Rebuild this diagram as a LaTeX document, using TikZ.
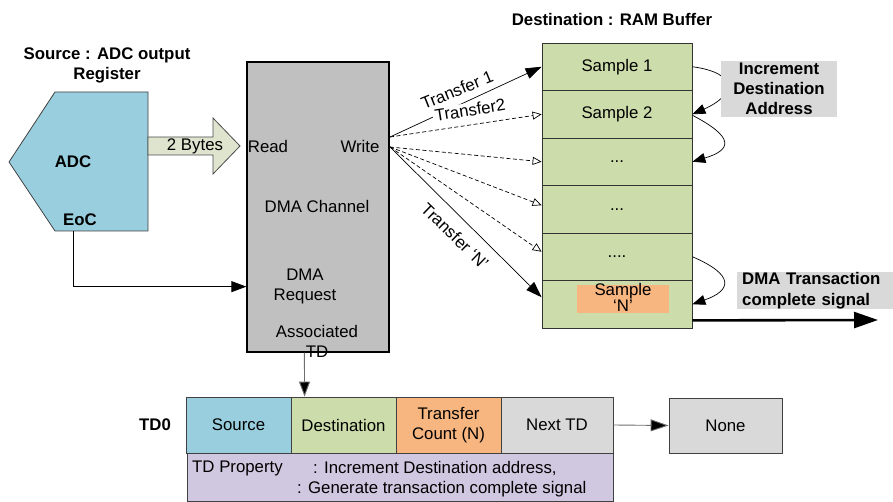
\documentclass[tikz,border=0pt]{standalone}
\usepackage{fontspec}
\setmainfont{Liberation Sans}
\usetikzlibrary{arrows.meta,calc}

\definecolor{adcblue}{RGB}{152,206,221}
\definecolor{ramgreen}{RGB}{204,220,170}
\definecolor{cntorange}{RGB}{247,181,128}
\definecolor{boxgray}{RGB}{217,217,217}
\definecolor{dmagray}{RGB}{192,192,192}
\definecolor{bytefill}{RGB}{222,228,206}
\definecolor{propviolet}{RGB}{208,200,224}
\definecolor{wiregray}{RGB}{110,110,110}

\begin{document}
\begin{tikzpicture}[x=1pt,y=-1pt,
  txt/.style={font=\fontsize{16.8}{20}\selectfont, inner sep=0pt, align=center},
  btxt/.style={font=\fontsize{16.8}{20}\selectfont\bfseries, inner sep=0pt, align=center},
  cell/.style={draw=black!75, line width=0.8pt, minimum height=56, inner sep=0pt,
    font=\fontsize{16.8}{20}\selectfont, align=center},
  ramrow/.style={draw=black!80, line width=0.8pt, fill=ramgreen, minimum width=150,
    minimum height=47.5, inner sep=0pt, font=\fontsize{16.8}{20}\selectfont},
  solidhead/.style={-{Triangle[length=16pt,width=11pt]}},
  openhead/.style={-{Triangle[open,length=9pt,width=8pt]}},
  fan/.style={line width=0.7pt},
  dashfan/.style={line width=0.7pt, dash pattern=on 4pt off 2.5pt},
  hop/.style={line width=0.7pt, -{Triangle[length=13pt,width=10pt]}}
]
\useasboundingbox (0,0) rectangle (893,502);

% ---------- source: ADC register ----------
\node[btxt] (srctitle) at (107,65) {Source : ADC output\\Register};
\filldraw[fill=adcblue, draw=black!75, line width=0.8pt]
  (55,92) -- (148,92) -- (148,231) -- (55,231) -- (9,162) -- cycle;
\node[btxt] (adc) at (73,162) {ADC};
\node[btxt] (eoclbl) at (80,220) {EoC};
\coordinate (eoc) at (73,231);

% 2-byte block arrow into the DMA channel
\filldraw[fill=bytefill, draw=black!70, line width=0.8pt]
  (148,137) -- (213,137) -- (213,118) -- (240,146) -- (213,174) -- (213,155) -- (148,155) -- cycle;
\node[txt] (bytes) at (195,146) {2 Bytes};

% ---------- DMA channel ----------
\node[draw=black, line width=1.3pt, fill=dmagray, minimum width=142, minimum height=290,
  inner sep=0pt] (dma) at (318,207) {};
\node[txt] (read) at (268,146) {Read};
\node[txt] (write) at (360,146) {Write};
\node[txt] (chan) at (317,206) {DMA Channel};
\node[txt] (req) at (305,286) {DMA\\Request};
\node[txt] (assoc) at (317,341) {Associated\\TD};

% end-of-conversion request line
\draw[line width=0.8pt, -{Triangle[length=15pt,width=11pt]}]
  (eoc) |- ($(dma.south west)+(0,-66)$);

% ---------- destination: RAM buffer ----------
\node[btxt] (dsttitle) at (612,19) {Destination : RAM Buffer};
\node[ramrow] (r1) at (617,66.75) {Sample 1};
\node[ramrow] (r2) at (617,114.25) {Sample 2};
\node[ramrow] (r3) at (617,161.75) {...};
\node[ramrow] (r4) at (617,209.25) {...};
\node[ramrow] (r5) at (617,256.75) {....};
\node[ramrow] (r6) at (617,304.25) {};
\node[fill=cntorange, minimum width=92, minimum height=28, inner sep=0pt] (lastbg) at (623,299) {};
\node[font=\fontsize{16.8}{16}\selectfont, inner sep=0pt, align=center] (last) at (623,297) {Sample\\‘N’};

% write fan from the channel into the buffer
\coordinate (wa) at (390,137);
\coordinate (wb) at (390,147);
\draw[fan, solidhead] (wa) -- (r1.west);
\draw[dashfan, openhead] (wa) -- (r2.west);
\draw[dashfan, openhead] (wb) -- (r3.west);
\draw[dashfan, openhead] (wb) -- ($(r4.west)+(0,-4)$);
\draw[dashfan, openhead] (wb) -- ($(r5.west)+(0,-5)$);
\draw[fan, solidhead] (wb) -- ($(r6.west)+(0,-7)$);
\node[txt, rotate=22] (t1) at (457,90) {Transfer 1};
\node[txt, rotate=9, fill=white, inner xsep=2pt, inner ysep=1pt] (t2) at (470,110) {Transfer2};
\node[txt, rotate=-44] (tn) at (455,236) {Transfer ‘N’};

% address increment hops
\draw[hop] (r1.east) .. controls +(45,6) and +(45,-20) .. (r2.east);
\draw[hop] ($(r2.east)+(0,1)$) .. controls +(42,22) and +(40,-12) .. (r3.east);
\draw[hop] (r5.east) .. controls +(42,18) and +(40,-14) .. (r6.east);
\node[fill=boxgray, minimum width=116, minimum height=56, inner sep=0pt,
  font=\fontsize{16.8}{20}\selectfont\bfseries, align=center] (incr) at (779,89)
  {Increment\\Destination\\Address};

% transaction complete signal
\node[fill=boxgray, minimum width=156, minimum height=37, inner xsep=5pt, inner ysep=0pt,
  font=\fontsize{16.8}{20.5}\selectfont\bfseries, align=left, anchor=west, text width=146pt]
  (done) at (737,290.5) {DMA Transaction\\complete signal};
\coordinate (doneend) at (878,320);
\draw[line width=2.6pt, -{Triangle[length=24pt,width=16pt]}]
  ($(r6.south east)+(0,-8)$) -- (doneend);

% ---------- transfer descriptor ----------
\node[btxt] (td0) at (155,425) {TD0};
\node[cell, fill=adcblue, minimum width=105] (srccell) at (238.5,425) {Source};
\node[cell, fill=ramgreen, minimum width=105] (dstcell) at (343.5,425) {Destination};
\node[cell, fill=cntorange, minimum width=105] (cntcell) at (448.5,425) {Transfer\\Count (N)};
\node[cell, fill=boxgray, minimum width=112] (nextcell) at (557,425) {Next TD};
\node[cell, fill=boxgray, minimum width=113, minimum height=55] (none) at (725.5,425.5) {None};
\node[draw=black!75, line width=0.8pt, fill=propviolet, minimum width=426, minimum height=48,
  inner sep=0pt] (prop) at (400,477) {};
\node[txt, anchor=west] (proplbl) at (192,468) {TD Property};
\node[txt, anchor=west] (prop1) at (313,468) {: Increment Destination address,};
\node[txt, anchor=west] (prop2) at (297,489) {: Generate transaction complete signal};

\draw[draw=wiregray, line width=0.9pt, -{Triangle[length=15pt,width=11pt,fill=black]}]
  ($(dma.south west)+(58,0)$) -- ($(dstcell.north west)+(14,0)$);
\draw[draw=wiregray, line width=0.9pt, -{Triangle[length=18pt,width=12pt,fill=black]}]
  (nextcell.east) -- (none.west);
\end{tikzpicture}
\end{document}
